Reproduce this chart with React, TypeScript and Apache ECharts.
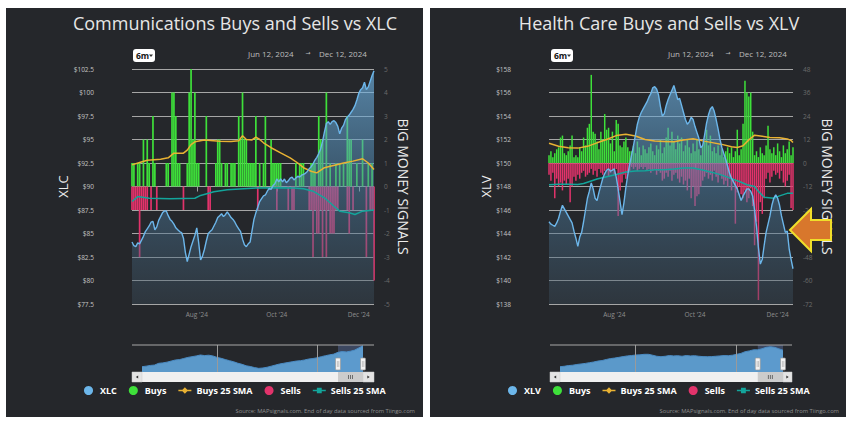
import React, { useEffect, useRef } from 'react';
import * as echarts from 'echarts';

const FONT = "'Open Sans', 'Noto Sans', 'DejaVu Sans', sans-serif";

// ---------- categories ----------
const HOLIDAYS = ['2024-06-19', '2024-07-04', '2024-09-02', '2024-11-28'];
function buildTradingDays(start: number[], end: number[]): string[] {
  const out: string[] = [];
  const d = new Date(Date.UTC(start[0], start[1] - 1, start[2]));
  const e = Date.UTC(end[0], end[1] - 1, end[2]);
  while (d.getTime() <= e) {
    const iso = d.toISOString().slice(0, 10);
    const wd = d.getUTCDay();
    if (wd !== 0 && wd !== 6 && !HOLIDAYS.includes(iso)) out.push(iso);
    d.setUTCDate(d.getUTCDate() + 1);
  }
  return out;
}
const dates = buildTradingDays([2024, 6, 12], [2024, 12, 12]);

const xTickDates = ['2024-08-01', '2024-10-01', '2024-12-02'];
const xTickLabels = ["Aug '24", "Oct '24", "Dec '24"];

const MONTHS = ['Jan', 'Feb', 'Mar', 'Apr', 'May', 'Jun', 'Jul', 'Aug', 'Sep', 'Oct', 'Nov', 'Dec'];
const navMonths: string[] = [];
for (let y = 2020; y <= 2024; y++) for (let m = 0; m < 12; m++) { if (y === 2020 && m < 6) continue; navMonths.push(`${MONTHS[m]} ${y}`); }
const navYearLines = ['Jan 2022', 'Jan 2024'];
const navSelection = ['Jun 2024', 'Dec 2024'];

// ---------- XLC panel ----------
const xlcPrice = [
  84.1, 83.7, 83.6, 84.0, 83.9, 84.3, 84.7, 85.2, 85.5, 85.8,
  86.2, 86.3, 85.4, 85.7, 86.4, 86.8, 87.2, 87.4, 87.4, 86.9,
  86.5, 86.3, 86.0, 85.6, 85.4, 85.2, 85.1, 84.5, 83.0, 82.0,
  82.8, 83.6, 84.2, 84.8, 85.6, 84.0, 82.2, 82.6, 83.3, 84.2,
  85.0, 85.2, 85.4, 85.8, 86.2, 86.7, 86.9, 87.1, 86.8, 87.0,
  87.3, 87.0, 86.7, 86.5, 86.2, 85.8, 85.5, 85.2, 84.4, 83.8,
  83.6, 83.9, 84.1, 85.3, 86.5, 87.2, 87.8, 88.4, 88.7, 89.0,
  89.1, 89.5, 89.8, 89.7, 90.1, 90.3, 90.8, 90.5, 90.8, 90.5,
  90.8, 90.4, 90.6, 90.9, 91.0, 90.7, 90.9, 91.1, 91.0, 91.2,
  91.3, 91.4, 91.6, 91.9, 92.1, 92.4, 92.8, 93.1, 93.5, 94.0,
  94.8, 95.8, 96.7, 96.9, 96.6, 96.9, 97.0, 96.8, 96.4, 95.6,
  96.2, 96.5, 97.1, 97.4, 97.6, 97.9, 98.2, 98.6, 99.2, 99.9,
  100.3, 100.5, 101.1, 100.3, 100.6, 101.2, 101.8, 102.3,
];
const xlcBuysPairs: [number, number][] = [
  [0, 1], [1, 1], [3, 1], [4, 1], [6, 2], [8, 2], [9, 1], [11, 3], [12, 1], [18, 1], [19, 1],
  [21, 4], [22, 4], [23, 3], [24, 1], [25, 1], [29, 1], [30, 4], [31, 5], [32, 2], [33, 4], [34, 1], [35, 1],
  [39, 3], [44, 1], [45, 2], [46, 2], [47, 1], [49, 1], [50, 1], [52, 1], [53, 1], [54, 1], [56, 3], [57, 2],
  [58, 4], [59, 2], [60, 2], [61, 1], [62, 1], [63, 1], [64, 1], [65, 3], [67, 1], [69, 1], [70, 3], [73, 2],
  [74, 1], [75, 1], [76, 1], [77, 1], [78, 1], [86, 1], [88, 1], [89, 1], [90, 1], [94, 1], [95, 1], [96, 1],
  [98, 3], [99, 2], [100, 2], [102, 4], [104, 1], [107, 1], [109, 1], [111, 1], [113, 3], [114, 2],
  [115, 2], [118, 1], [121, 2], [124, 1], [126, 1],
];
const xlcSellsPairs: [number, number][] = [
  [0, -1], [1, -1], [2, -1], [3, -1], [4, -3], [5, -1], [6, -1], [7, -1], [8, -1], [10, -1], [13, -1],
  [27, -1], [40, -1], [41, -1], [66, -1], [76, -1], [82, -1], [84, -1], [85, -1], [93, -1], [94, -1],
  [95, -3], [96, -1], [97, -2], [98, -2], [99, -1], [100, -3], [101, -1], [102, -3], [103, -1], [104, -2],
  [105, -2], [106, -2], [107, -1], [108, -1], [113, -1], [114, -2], [116, -1], [123, -3], [125, -1],
  [126, -1], [127, -4],
];
const xlcBuysSma: [number, number][] = [
  [0, 0.92], [4, 1.02], [8, 1.12], [15, 1.16], [19, 1.22], [22, 1.42], [27, 1.42], [29, 1.55], [31, 1.78],
  [33, 1.9], [38, 1.98], [46, 1.93], [52, 1.92], [56, 1.95], [58, 2.16], [60, 2.0], [63, 1.98], [65, 2.1],
  [67, 2.0], [69, 1.86], [73, 1.65], [78, 1.43], [83, 1.22], [87, 1.0], [90, 0.8], [94, 0.65], [97, 0.58],
  [101, 0.8], [104, 0.86], [108, 0.94], [111, 1.0], [116, 1.08], [121, 1.18], [124, 1.0], [127, 0.72],
];
const xlcSellsSma: [number, number][] = [
  [0, -0.64], [3, -0.43], [9, -0.5], [20, -0.52], [33, -0.5], [36, -0.38], [43, -0.22], [50, -0.14],
  [63, -0.07], [75, -0.05], [85, -0.06], [90, -0.1], [95, -0.2], [101, -0.48], [106, -0.84], [109, -1.05],
  [114, -1.12], [117, -1.19], [121, -1.05], [127, -1.0],
];
const xlcNav = [
  44.5, 46, 48, 49, 53.8, 55, 57, 60, 62.9, 64, 67, 70, 72, 74, 76.6, 75, 76, 74, 70, 67.5,
  64, 61, 58, 54, 51, 47, 45, 42, 40, 41, 43, 46, 49, 52, 54, 56, 58, 60, 61, 63,
  65.6, 67, 69, 72, 74.7, 77, 79, 84, 86, 85, 87, 90, 96, 102,
];

// ---------- XLV panel ----------
const xlvPrice = [
  145.0, 144.8, 144.7, 144.6, 144.9, 145.3, 145.9, 146.4, 146.1, 145.8,
  145.5, 145.2, 144.9, 144.2, 143.6, 142.9, 143.7, 144.1, 145.0, 146.0,
  147.0, 147.6, 148.3, 147.8, 147.0, 146.8, 147.5, 148.1, 148.7, 149.1,
  149.4, 149.5, 149.3, 149.4, 149.5, 148.8, 147.8, 146.7, 145.6, 146.6,
  147.9, 149.0, 149.9, 150.7, 151.5, 152.4, 153.3, 153.9, 154.3, 154.6,
  154.9, 155.2, 155.6, 155.9, 156.4, 156.5, 156.3, 155.8, 154.8, 154.0,
  154.2, 154.9, 155.4, 155.8, 156.2, 156.6, 156.0, 155.4, 155.5, 154.9,
  154.3, 153.7, 153.3, 153.5, 153.9, 153.7, 153.1, 152.6, 152.1, 151.3,
  151.5, 152.4, 153.4, 154.1, 154.6, 154.8, 154.4, 153.7, 152.9, 152.0,
  151.3, 150.8, 150.3, 149.7, 149.1, 148.7, 148.4, 148.1, 147.8, 147.3,
  146.8, 147.2, 147.5, 147.8, 147.8, 147.6, 147.2, 146.0, 144.6, 142.8,
  141.4, 141.8, 143.0, 144.1, 144.8, 145.5, 146.4, 147.0, 147.3, 147.0,
  146.4, 145.5, 144.8, 144.1, 144.2, 142.7, 141.8, 141.0,
];
const xlvBuys = [
  4, 6, 3, 5, 7, 8, 13, 14, 5, 4,
  6, 9, 14, 3, 4, 3, 8, 6, 13, 9,
  18, 20, 45, 16, 15, 11, 7, 16, 12, 25,
  17, 18, 10, 16, 6, 22, 20, 9, 8, 11,
  13, 8, 6, 6, 9, 5, 11, 8, 4, 9,
  7, 5, 8, 10, 6, 4, 9, 7, 12, 5,
  8, 13, 18, 9, 16, 11, 7, 14, 10, 13,
  6, 9, 12, 8, 5, 10, 6, 12, 7, 4,
  9, 11, 17, 9, 14, 6, 8, 5, 9, 4,
  7, 3, 6, 8, 5, 8, 3, 6, 17, 4,
  7, 20, 42, 36, 34, 36, 16, 4, 6, 3,
  8, 5, 4, 9, 19, 7, 5, 8, 4, 10,
  6, 3, 9, 5, 7, 11, 4, 8,
];
const xlvSells = [
  -6, -9, -5, -18, -8, -12, -10, -14, -9, -11,
  -8, -20, -12, -7, -9, -6, -8, -5, -4, -7,
  -6, -5, -3, -6, -4, -7, -3, -5, -6, -4,
  -3, -7, -5, -4, -6, -3, -27, -14, -10, -6,
  -8, -5, -4, -2, -3, -2, -4, -3, -2, -3,
  -2, -4, -3, -5, -4, -3, -6, -4, -5, -9,
  -8, -5, -7, -4, -9, -6, -5, -8, -10, -7,
  -11, -9, -14, -8, -18, -12, -22, -17, -16, -12,
  -9, -7, -5, -8, -6, -9, -4, -7, -10, -6,
  -8, -11, -9, -12, -8, -14, -10, -31, -15, -12,
  -16, -18, -14, -20, -18, -13, -22, -42, -30, -70,
  -20, -26, -18, -8, -5, -10, -7, -4, -6, -5,
  -8, -4, -10, -12, -9, -6, -23, -24,
];
const xlvBuysSma: [number, number][] = [
  [0, 10.1], [5, 8.6], [10, 7.8], [15, 7.6], [20, 8.5], [25, 10.3], [30, 12.0], [35, 14.0], [40, 14.7],
  [45, 13.8], [50, 12.0], [55, 11.2], [60, 11.0], [65, 10.8], [70, 11.8], [75, 12.4], [80, 11.3],
  [85, 10.4], [90, 9.5], [95, 8.3], [98, 7.9], [101, 8.8], [104, 11.8], [107, 14.2], [110, 13.8],
  [115, 13.0], [120, 12.9], [124, 12.3], [126, 11.5], [127, 10.5],
];
const xlvSellsSma: [number, number][] = [
  [0, -11.1], [5, -10.9], [10, -10.9], [15, -11.0], [18, -10.5], [20, -9.8], [25, -8.2], [30, -7.0],
  [35, -5.9], [40, -4.6], [45, -4.1], [50, -3.9], [55, -3.5], [60, -3.4], [65, -3.1], [70, -2.5],
  [75, -2.6], [80, -3.6], [85, -4.8], [90, -6.2], [95, -8.0], [100, -9.8], [103, -11.1], [107, -12.0],
  [109, -14.5], [112, -17.5], [117, -18.0], [120, -16.8], [124, -15.5], [127, -15.4],
];
const xlvNav = [
  99.8, 101, 103, 104, 106, 107.5, 109, 111, 113, 115.5, 117, 120, 122.5, 124, 126, 128, 130, 131, 132.5, 133,
  134.5, 134.5, 132, 129, 127.8, 129, 131, 130, 130.6, 129, 131, 130, 130.6, 129, 128, 127.8, 128, 129, 130, 131,
  130.6, 132, 134.5, 137, 141.8, 144, 147, 147, 150, 154, 155.5, 154, 150, 146,
];

const COL = {
  panel: '#25272b',
  grid: '#a6a6a6',
  price: '#6cb6ea',
  buys: '#3ee03a',
  sells: '#e2336b',
  buysSma: '#e9b233',
  sellsSma: '#13a59b',
  nav: '#5e9fd3',
  navLine: '#4b8bc3',
};

function dense(pairs: [number, number][], n: number): (number | null)[] {
  const a: (number | null)[] = new Array(n).fill(null);
  pairs.forEach(([i, v]) => { a[i] = v; });
  return a;
}

const ICON_DIAMOND = 'path://M0,4.2 L5,4.2 L8,1 L11,4.2 L16,4.2 L16,5.8 L11,5.8 L8,9 L5,5.8 L0,5.8 Z';
const ICON_SQUARE = 'path://M0,4.2 L5,4.2 L5,1.5 L11,1.5 L11,4.2 L16,4.2 L16,5.8 L11,5.8 L11,8.5 L5,8.5 L5,5.8 L0,5.8 Z';

type Panel = {
  ticker: string; price: number[]; buys: (number | null)[]; sells: (number | null)[];
  buysSma: [number, number][]; sellsSma: [number, number][]; nav: number[];
  priceMin: number; priceMax: number; priceStep: number; sigMin: number; sigMax: number; sigStep: number;
  navMin: number; navMax: number;
  grid: { left: number; width: number }; navGrid: { left: number; width: number };
  priceNameGap: number; sigNameGap: number; legendLeft: number; barWidth: number;
};

const panels: Panel[] = [
  {
    ticker: 'XLC', price: xlcPrice, buys: dense(xlcBuysPairs, dates.length), sells: dense(xlcSellsPairs, dates.length),
    buysSma: xlcBuysSma, sellsSma: xlcSellsSma, nav: xlcNav,
    priceMin: 77.5, priceMax: 102.5, priceStep: 2.5, sigMin: -5, sigMax: 5, sigStep: 1, navMin: 30, navMax: 104,
    grid: { left: 132, width: 242 }, navGrid: { left: 142, width: 221 }, priceNameGap: 54, sigNameGap: 22, legendLeft: 84, barWidth: 1.7,
  },
  {
    ticker: 'XLV', price: xlvPrice, buys: xlvBuys, sells: xlvSells,
    buysSma: xlvBuysSma, sellsSma: xlvSellsSma, nav: xlvNav,
    priceMin: 138, priceMax: 158, priceStep: 2, sigMin: -72, sigMax: 48, sigStep: 12, navMin: 85, navMax: 160.5,
    grid: { left: 549, width: 244 }, navGrid: { left: 560, width: 223 }, priceNameGap: 50, sigNameGap: 27, legendLeft: 508, barWidth: 1.5,
  },
];

const PLOT_TOP = 69;
const PLOT_H = 235;
const NAV_TOP = 345;
const NAV_H = 27;

function buildOption() {
  const grid: any[] = [];
  const xAxis: any[] = [];
  const yAxis: any[] = [];
  const series: any[] = [];
  const legend: any[] = [];

  panels.forEach((p, k) => {
    const gMain = k * 2;
    const gNav = k * 2 + 1;
    grid.push({ left: p.grid.left, top: PLOT_TOP, width: p.grid.width, height: PLOT_H });
    grid.push({ left: p.navGrid.left, top: NAV_TOP, width: p.navGrid.width, height: NAV_H });

    xAxis.push({
      type: 'category', gridIndex: gMain, data: dates, boundaryGap: false,
      axisLine: { show: false },
      axisTick: { show: true, interval: (_i: number, v: string) => xTickDates.includes(v), length: 5, lineStyle: { color: '#a0a0a0' } },
      axisLabel: {
        interval: (_i: number, v: string) => xTickDates.includes(v),
        formatter: (v: string) => { const j = xTickDates.indexOf(v); return j >= 0 ? xTickLabels[j] : ''; },
        color: '#8e8e8e', fontSize: 6.5, margin: 7, fontFamily: FONT,
      },
      splitLine: { show: false },
    });
    xAxis.push({ type: 'category', gridIndex: gNav, data: navMonths, boundaryGap: false, show: false });

    const yPrice = yAxis.length;
    yAxis.push({
      type: 'value', gridIndex: gMain, position: 'left', min: p.priceMin, max: p.priceMax, interval: p.priceStep,
      axisLine: { show: false }, axisTick: { show: false },
      axisLabel: { formatter: (v: number) => '$' + v, color: '#c4c4c4', fontSize: 6.5, margin: 38, fontFamily: FONT },
      splitLine: { lineStyle: { color: COL.grid, width: 1 } },
      name: p.ticker, nameLocation: 'middle', nameRotate: 90, nameGap: p.priceNameGap,
      nameTextStyle: { color: '#ececec', fontSize: 13, fontFamily: FONT },
    });
    const ySig = yAxis.length;
    yAxis.push({
      type: 'value', gridIndex: gMain, position: 'right', min: p.sigMin, max: p.sigMax, interval: p.sigStep,
      axisLine: { show: false }, axisTick: { show: false },
      axisLabel: { color: '#6c6c6c', fontSize: 6.5, margin: 10, fontFamily: FONT },
      splitLine: { show: false },
      name: 'BIG MONEY SIGNALS', nameLocation: 'middle', nameRotate: -90, nameGap: p.sigNameGap,
      nameTextStyle: { color: '#ececec', fontSize: 14, fontFamily: FONT },
    });
    const yNav = yAxis.length;
    yAxis.push({ type: 'value', gridIndex: gNav, min: p.navMin, max: p.navMax, show: false });

    const xMain = gMain;
    const xNav = gNav;
    const grad = new echarts.graphic.LinearGradient(0, PLOT_TOP, 0, PLOT_TOP + PLOT_H, [
      { offset: 0, color: 'rgba(115,185,235,0.92)' },
      { offset: 0.5, color: 'rgba(80,135,175,0.68)' },
      { offset: 1, color: 'rgba(60,78,92,0.55)' },
    ], true);

    series.push(
      { name: 'Buys', type: 'bar', xAxisIndex: xMain, yAxisIndex: ySig, data: p.buys, barWidth: p.barWidth, barGap: '-100%', itemStyle: { color: COL.buys }, z: 1, silent: true },
      { name: 'Sells', type: 'bar', xAxisIndex: xMain, yAxisIndex: ySig, data: p.sells, barWidth: p.barWidth, barGap: '-100%', itemStyle: { color: COL.sells }, z: 1, silent: true },
      { name: p.ticker, type: 'line', xAxisIndex: xMain, yAxisIndex: yPrice, data: p.price, color: COL.price, showSymbol: false, lineStyle: { width: 0 }, areaStyle: { color: grad, origin: 'start' }, z: 2, silent: true },
      { name: 'Buys 25 SMA', type: 'line', xAxisIndex: xMain, yAxisIndex: ySig, data: p.buysSma, color: COL.buysSma, showSymbol: false, lineStyle: { width: 1.5 }, z: 3, silent: true },
      { name: 'Sells 25 SMA', type: 'line', xAxisIndex: xMain, yAxisIndex: ySig, data: p.sellsSma, color: COL.sellsSma, showSymbol: false, lineStyle: { width: 1.5 }, z: 3, silent: true },
      { name: p.ticker, type: 'line', xAxisIndex: xMain, yAxisIndex: yPrice, data: p.price, color: COL.price, showSymbol: false, lineStyle: { width: 1.4 }, z: 4, silent: true },
      {
        name: p.ticker + ' nav', type: 'line', xAxisIndex: xNav, yAxisIndex: yNav, data: p.nav, color: COL.nav,
        showSymbol: false, lineStyle: { width: 1, color: COL.navLine }, areaStyle: { color: COL.nav, opacity: 0.95, origin: 'start' }, silent: true,
        markLine: { silent: true, symbol: 'none', label: { show: false }, lineStyle: { color: '#9a9a9a', width: 1, type: 'solid' }, data: navYearLines.map((m) => ({ xAxis: m })) },
        markArea: { silent: true, itemStyle: { color: 'rgba(102,133,194,0.35)' }, data: [[{ xAxis: navSelection[0] }, { xAxis: navSelection[1] }]] },
      },
    );

    legend.push({
      left: p.legendLeft, top: 386, padding: 0, itemGap: 12, itemWidth: 13, itemHeight: 9, orient: 'horizontal',
      selectedMode: false,
      textStyle: { color: '#ffffff', fontWeight: 'bold', fontSize: 9, fontFamily: FONT },
      data: [
        { name: p.ticker, icon: 'circle' },
        { name: 'Buys', icon: 'circle' },
        { name: 'Buys 25 SMA', icon: ICON_DIAMOND },
        { name: 'Sells', icon: 'circle' },
        { name: 'Sells 25 SMA', icon: ICON_SQUARE },
      ],
    });
  });

  return {
    animation: false,
    backgroundColor: '#ffffff',
    textStyle: { fontFamily: FONT },
    grid, xAxis, yAxis, series, legend,
  };
}

const frames = [
  { x0: 6, x1: 423, cx: 235, title: 'Communications Buys and Sells vs XLC', plotL: 132, plotR: 374, navAxis: 1, dateL: 248, srcR: 415, arrow: false },
  { x0: 430, x1: 846, cx: 659, title: 'Health Care Buys and Sells vs XLV', plotL: 550, plotR: 792, navAxis: 3, dateL: 668, srcR: 839, arrow: true },
];

function buildGraphics(chart: any) {
  const els: any[] = [];
  frames.forEach((f) => {
    els.push({ type: 'rect', z: -100, silent: true, shape: { x: f.x0, y: 8, width: f.x1 - f.x0, height: 409 }, style: { fill: COL.panel } });
    els.push({ type: 'text', z: 10, silent: true, x: f.cx, y: 23, style: { text: f.title, fill: '#e6e6e6', font: `18px ${FONT}`, textAlign: 'center', textVerticalAlign: 'middle' } });
    // range selector button
    els.push({ type: 'rect', z: 10, silent: true, shape: { x: f.plotL + 1, y: 49, width: 22, height: 13, r: 3 }, style: { fill: '#ffffff' } });
    els.push({ type: 'text', z: 11, silent: true, x: f.plotL + 4, y: 55.5, style: { text: '6m', fill: '#111111', font: `bold 8.5px ${FONT}`, textVerticalAlign: 'middle' } });
    els.push({ type: 'polygon', z: 11, silent: true, shape: { points: [[f.plotL + 17, 54.5], [f.plotL + 21, 54.5], [f.plotL + 19, 57]] }, style: { fill: '#333333' } });
    // date range
    els.push({ type: 'text', z: 10, silent: true, x: f.dateL, y: 53, style: { text: 'Jun 12, 2024', fill: '#bdbdbd', font: `8px ${FONT}`, textVerticalAlign: 'middle' } });
    els.push({ type: 'text', z: 10, silent: true, x: f.dateL + 60, y: 53, style: { text: '→', fill: '#bdbdbd', font: `6px ${FONT}`, textAlign: 'center', textVerticalAlign: 'middle' } });
    els.push({ type: 'text', z: 10, silent: true, x: f.dateL + 71, y: 53, style: { text: 'Dec 12, 2024', fill: '#bdbdbd', font: `8px ${FONT}`, textVerticalAlign: 'middle' } });

    // navigator chrome
    const s0 = chart.convertToPixel({ xAxisIndex: f.navAxis }, navSelection[0]);
    const s1 = chart.convertToPixel({ xAxisIndex: f.navAxis }, navSelection[1]);
    const n0 = chart.convertToPixel({ xAxisIndex: f.navAxis }, navMonths[0]);
    const n1 = chart.convertToPixel({ xAxisIndex: f.navAxis }, navMonths[navMonths.length - 1]);
    els.push({ type: 'line', z: 10, silent: true, shape: { x1: f.plotL, y1: NAV_TOP, x2: f.plotR, y2: NAV_TOP }, style: { stroke: '#a8a8a8', lineWidth: 1 } });
    const sbY = NAV_TOP + NAV_H;
    const sbH = 10;
    els.push({ type: 'rect', z: 10, silent: true, shape: { x: n0, y: sbY, width: n1 - n0, height: sbH }, style: { fill: '#f0f0f0' } });
    els.push({ type: 'rect', z: 10, silent: true, shape: { x: f.plotL, y: sbY, width: n0 - f.plotL, height: sbH }, style: { fill: '#e4e4e4', stroke: '#cccccc', lineWidth: 0.5 } });
    els.push({ type: 'rect', z: 10, silent: true, shape: { x: n1, y: sbY, width: f.plotR - n1, height: sbH }, style: { fill: '#e4e4e4', stroke: '#cccccc', lineWidth: 0.5 } });
    const lmx = (f.plotL + n0) / 2;
    const rmx = (n1 + f.plotR) / 2;
    els.push({ type: 'polygon', z: 11, silent: true, shape: { points: [[lmx + 1.2, sbY + 3.5], [lmx + 1.2, sbY + 6.5], [lmx - 1.2, sbY + 5]] }, style: { fill: '#333333' } });
    els.push({ type: 'polygon', z: 11, silent: true, shape: { points: [[rmx - 1.2, sbY + 3.5], [rmx - 1.2, sbY + 6.5], [rmx + 1.2, sbY + 5]] }, style: { fill: '#333333' } });
    els.push({ type: 'rect', z: 11, silent: true, shape: { x: s0, y: sbY, width: s1 - s0, height: sbH }, style: { fill: '#cccccc' } });
    const gx = (s0 + s1) / 2;
    [-2, 0, 2].forEach((d) => els.push({ type: 'line', z: 12, silent: true, shape: { x1: gx + d, y1: sbY + 3, x2: gx + d, y2: sbY + 7 }, style: { stroke: '#444444', lineWidth: 0.7 } }));
    [s0, s1].forEach((hx) => {
      els.push({ type: 'rect', z: 12, silent: true, shape: { x: hx - 2.5, y: NAV_TOP + 13, width: 5, height: 12, r: 1 }, style: { fill: '#f2f2f2', stroke: '#999999', lineWidth: 0.7 } });
      els.push({ type: 'line', z: 13, silent: true, shape: { x1: hx - 0.6, y1: NAV_TOP + 16, x2: hx - 0.6, y2: NAV_TOP + 22 }, style: { stroke: '#999999', lineWidth: 0.5 } });
      els.push({ type: 'line', z: 13, silent: true, shape: { x1: hx + 0.8, y1: NAV_TOP + 16, x2: hx + 0.8, y2: NAV_TOP + 22 }, style: { stroke: '#999999', lineWidth: 0.5 } });
    });

    els.push({ type: 'text', z: 10, silent: true, x: f.srcR, y: 411, style: { text: 'Source: MAPsignals.com. End of day data sourced from Tiingo.com', fill: '#8f8f8f', font: `5.8px ${FONT}`, textAlign: 'right', textVerticalAlign: 'middle' } });

    if (f.arrow) {
      els.push({
        type: 'polygon', z: 100, silent: true,
        shape: { points: [[790, 230], [811, 209], [811, 220], [831, 220], [831, 240], [811, 240], [811, 251]] },
        style: { fill: '#d8772c', stroke: '#f0df2a', lineWidth: 2 },
      });
    }
  });
  return els;
}

export default function App() {
  const ref = useRef<HTMLDivElement>(null);
  useEffect(() => {
    if (!ref.current) return;
    const chart = echarts.init(ref.current, undefined, { renderer: 'svg' });
    chart.setOption(buildOption() as any);
    chart.setOption({ graphic: buildGraphics(chart) } as any);
    return () => chart.dispose();
  }, []);
  return <div ref={ref} style={{ position: 'fixed', left: 0, top: 0, width: 852, height: 421 }} />;
}
